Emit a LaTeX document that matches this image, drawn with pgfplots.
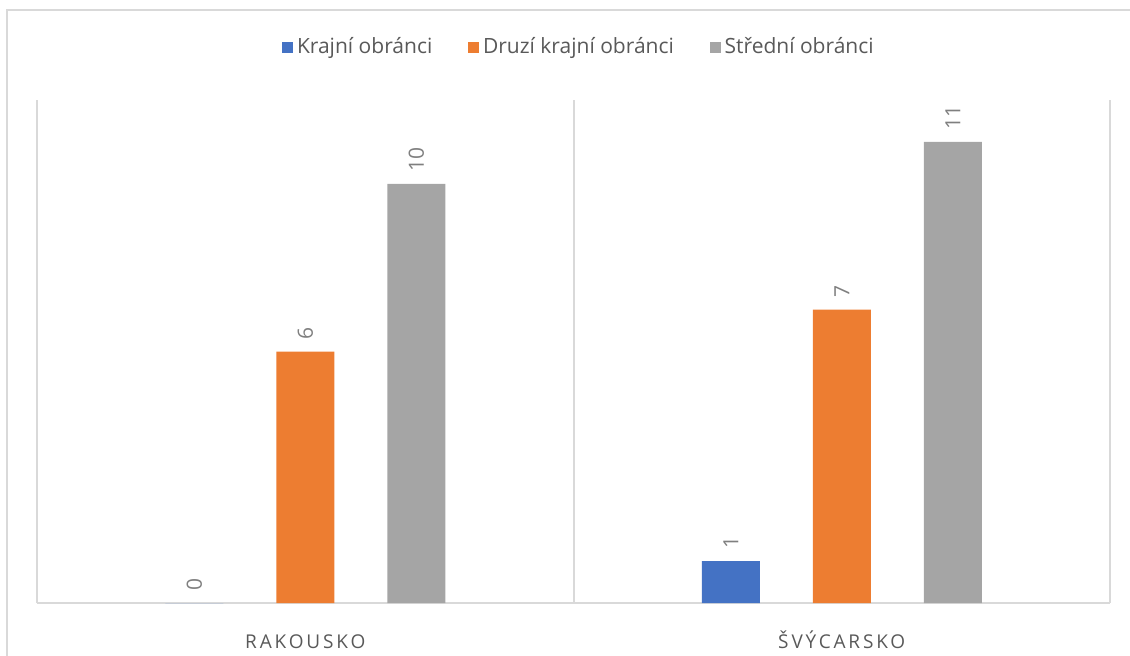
\documentclass[border=0pt]{standalone}
\usepackage{pgfplots}
\pgfplotsset{compat=1.18}
\usepackage{fontspec}
\setmainfont{Open Sans}
\newfontfamily\catfont[LetterSpace=15]{Open Sans}

\definecolor{cblue}{HTML}{4472C4}
\definecolor{corange}{HTML}{ED7D31}
\definecolor{cgray}{HTML}{A5A5A5}
\definecolor{gridc}{HTML}{D9D9D9}
\definecolor{labc}{HTML}{7F7F7F}
\definecolor{catc}{HTML}{595959}

\begin{document}
\begin{tikzpicture}
\begin{axis}[
    width=536.5pt, height=251.5pt, scale only axis,
    xmin=-0.5, xmax=1.5, ymin=0, ymax=12,
    clip=false,
    axis line style={draw=none},
    tick style={draw=none},
    xtick={0,1},
    xticklabels={RAKOUSKO,ŠVÝCARSKO},
    xticklabel style={font=\catfont\fontsize{9.5}{11}\selectfont, text=catc,
        anchor=base, yshift=-18.5pt},
    extra x ticks={-0.5,0.5,1.5},
    extra x tick labels={},
    extra x tick style={grid=major},
    ytick={0}, yticklabels={},
    ymajorgrids,
    major grid style={line width=1pt, gridc},
    ybar, bar width=29pt,
    nodes near coords,
    /pgf/number format/assume math mode=true,
    every node near coord/.append style={rotate=90, anchor=west, inner sep=6pt,
        font=\fontsize{10.5}{12}\selectfont, text=labc},
    legend columns=3,
    legend style={draw=none, at={(0.506,1.105)}, anchor=center,
        font=\fontsize{10.5}{12}\selectfont, text=catc,
        /tikz/every even column/.append style={column sep=16pt}},
    legend image code/.code={\fill[#1] (0pt,-2.7pt) rectangle (5.4pt,2.7pt);},
]
\addplot[fill=cblue, draw=none, bar shift=-55.5pt] coordinates {(0,0) (1,1)};
\addlegendentry{Krajní obránci}
\addplot[fill=corange, draw=none, bar shift=0pt] coordinates {(0,6) (1,7)};
\addlegendentry{Druzí krajní obránci}
\addplot[fill=cgray, draw=none, bar shift=55.5pt] coordinates {(0,10) (1,11)};
\addlegendentry{Střední obránci}
\end{axis}
\draw[gridc, line width=1pt] (-15pt,-40pt) -- (-15pt,296.5pt) -- (580pt,296.5pt);
\pgfresetboundingbox
\path[use as bounding box] (-18.5pt,-26pt) rectangle (546.5pt,301.5pt);
\end{tikzpicture}
\end{document}
